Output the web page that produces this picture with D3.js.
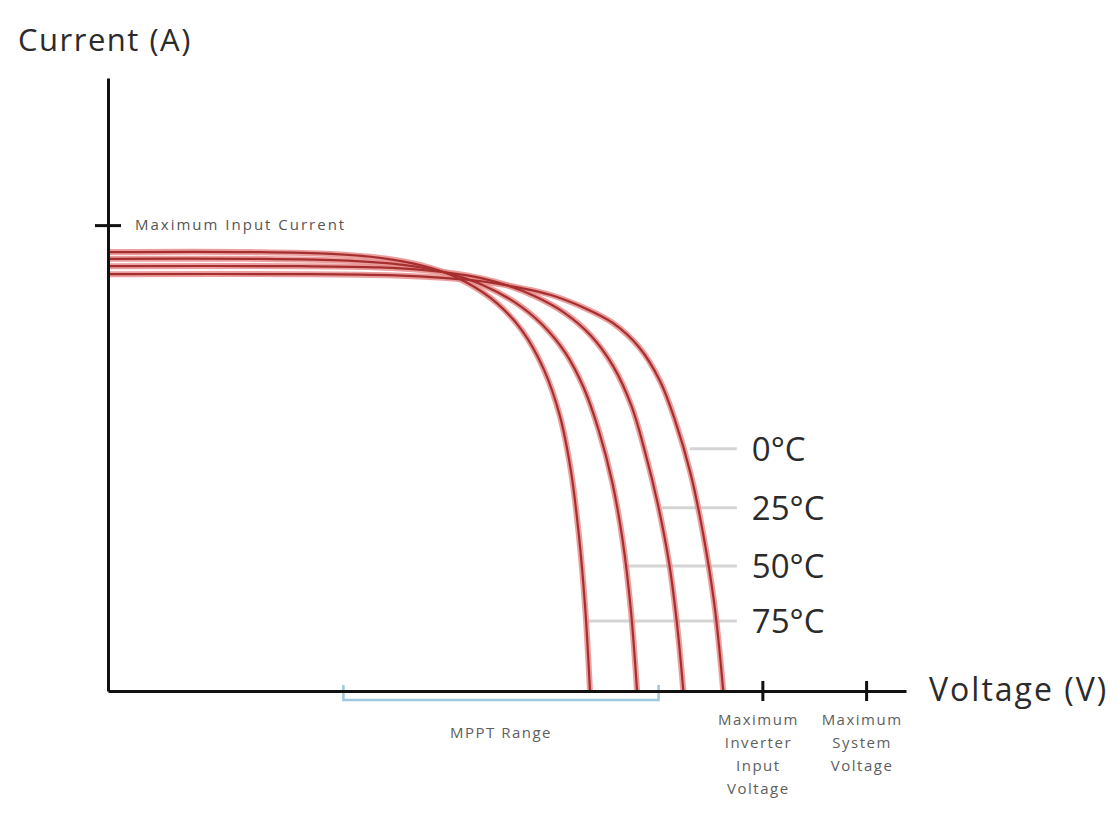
<!DOCTYPE html>
<html lang="en">
<head>
  <meta charset="UTF-8">
  <title>I-V curves vs temperature</title>
  <style>
      body { margin: 0; background: #fff; }
      text { font-family: "Open Sans", sans-serif; }
      .axis path, .axis line { stroke: #111; stroke-width: 3; }
  </style>
</head>
<body>
<div id="chart"></div>
<script src="https://d3js.org/d3.v7.min.js"></script>
<script>
  // temperature curves: voltage (0-100 units) and current (0-10 units)
  const temps = ["0°C", "25°C", "50°C", "75°C"];
  const volt0  = [0, 24.1, 36.0, 42.0, 47.0, 51.5, 55.5, 59.5, 63.3, 66.6, 69.2, 71.1, 73.0, 74.6, 76.0, 77.1];
  const amp0   = [6.80, 6.80, 6.78, 6.74, 6.68, 6.58, 6.46, 6.26, 6.00, 5.60, 5.05, 4.40, 3.55, 2.55, 1.40, 0];
  const volt25 = [0, 24.1, 34.0, 40.0, 45.0, 49.5, 53.5, 57.2, 60.5, 63.3, 65.6, 67.3, 68.9, 70.3, 71.3, 72.1];
  const amp25  = [6.93, 6.93, 6.91, 6.86, 6.78, 6.64, 6.44, 6.17, 5.80, 5.30, 4.65, 3.90, 3.05, 2.10, 1.10, 0];
  const volt50 = [0, 17.8, 30.0, 37.0, 42.5, 47.0, 51.0, 54.4, 57.3, 59.6, 61.5, 63.2, 64.5, 65.5, 66.3];
  const amp50  = [7.05, 7.05, 7.02, 6.95, 6.82, 6.62, 6.34, 5.98, 5.52, 4.95, 4.25, 3.40, 2.45, 1.35, 0];
  const volt75 = [0, 17.8, 28.0, 35.0, 40.5, 45.0, 48.8, 52.0, 54.6, 56.6, 58.0, 59.0, 59.8, 60.4];
  const amp75  = [7.16, 7.16, 7.13, 7.05, 6.90, 6.66, 6.32, 5.86, 5.25, 4.50, 3.60, 2.55, 1.35, 0];

  // leader lines to the temperature labels
  const leaderAmp   = [3.95, 2.99, 2.04, 1.14];
  const leaderStart = [72.9, 69.4, 64.8, 60.2];
  const leaderEnd = 78.8;

  // axis marks
  const xTicks = [82, 95];
  const xTickLabels = [["Maximum", "Inverter", "Input", "Voltage"], ["Maximum", "System", "Voltage"]];
  const yTicks = [7.6];
  const yTickLabels = ["Maximum Input Current"];
  const mppt = [29.5, 69.0];

  const margin = {top: 78, right: 211, bottom: 126, left: 108},
    width = 1117 - margin.left - margin.right,
    height = 817 - margin.top - margin.bottom;

  const root = d3.select("#chart").append("svg")
    .attr("width", 1117)
    .attr("height", 817);

  const svg = root.append("g")
    .attr("transform", `translate(${margin.left},${margin.top})`);

  const x = d3.scaleLinear().domain([0, 100]).range([0, width]);
  const y = d3.scaleLinear().domain([0, 10]).range([height, 0]);

  const curves = [
    {v: volt0, a: amp0}, {v: volt25, a: amp25},
    {v: volt50, a: amp50}, {v: volt75, a: amp75}
  ].map(c => c.v.map((v, i) => [v, c.a[i]]));

  const line = d3.line()
    .x(d => x(d[0]))
    .y(d => y(d[1]))
    .curve(d3.curveCatmullRom.alpha(0.5));

  // leader lines
  svg.selectAll(".leader")
    .data(leaderAmp)
    .enter().append("line")
    .attr("class", "leader")
    .attr("x1", (d, i) => x(leaderStart[i]))
    .attr("x2", x(leaderEnd))
    .attr("y1", d => y(d))
    .attr("y2", d => y(d))
    .attr("stroke", "#d4d4d4")
    .attr("stroke-width", 3);

  svg.selectAll(".temp")
    .data(temps)
    .enter().append("text")
    .attr("class", "temp")
    .attr("x", x(leaderEnd) + 15)
    .attr("y", (d, i) => y(leaderAmp[i]))
    .attr("dy", "0.36em")
    .style("font-size", "33px")
    .style("fill", "#2b2b2b")
    .text(d => d);

  // MPPT bracket
  svg.append("path")
    .attr("d", `M${x(mppt[0])},${height - 6}V${height + 9}H${x(mppt[1])}V${height - 6}`)
    .attr("fill", "none")
    .attr("stroke", "#9ec8df")
    .attr("stroke-width", 2.5);

  svg.append("text")
    .attr("x", (x(mppt[0]) + x(mppt[1])) / 2)
    .attr("y", height + 47)
    .style("text-anchor", "middle")
    .style("font-size", "15px")
    .style("letter-spacing", "1.5px")
    .style("fill", "#5e5e5e")
    .text("MPPT Range");

  // curves: soft halo + dark core
  svg.selectAll(".halo")
    .data(curves)
    .enter().append("path")
    .attr("class", "halo")
    .attr("d", line)
    .attr("fill", "none")
    .attr("stroke", "#e88e8e")
    .attr("stroke-opacity", 0.85)
    .attr("stroke-width", 6);

  svg.selectAll(".curve")
    .data(curves)
    .enter().append("path")
    .attr("class", "curve")
    .attr("d", line)
    .attr("fill", "none")
    .attr("stroke", "#a52f2e")
    .attr("stroke-width", 2.2);

  // axes
  const xAxis = svg.append("g")
    .attr("class", "axis")
    .attr("transform", `translate(0,${height})`)
    .call(d3.axisBottom(x).tickValues(xTicks).tickSizeOuter(0).tickFormat(""));
  xAxis.selectAll(".tick line").attr("y1", -10).attr("y2", 10);

  const yAxis = svg.append("g")
    .attr("class", "axis")
    .call(d3.axisLeft(y).tickValues(yTicks).tickSizeOuter(0).tickFormat(""));
  yAxis.selectAll(".tick line").attr("x1", -13).attr("x2", 13);

  xTickLabels.forEach((lines, i) => {
    const t = svg.append("text")
      .attr("x", x(xTicks[i]) - 4)
      .attr("y", height + 34)
      .style("text-anchor", "middle")
      .style("font-size", "15px")
      .style("letter-spacing", "1.5px")
      .style("fill", "#5e5e5e");
    lines.forEach((s, j) => {
      t.append("tspan")
        .attr("x", x(xTicks[i]) - 4)
        .attr("dy", j === 0 ? 0 : 23)
        .text(s);
    });
  });

  svg.append("text")
    .attr("x", 27)
    .attr("y", y(yTicks[0]))
    .attr("dy", "0.35em")
    .style("font-size", "15px")
    .style("letter-spacing", "2px")
    .style("fill", "#555")
    .text(yTickLabels[0]);

  // axis titles
  root.append("text")
    .attr("x", 18)
    .attr("y", 51)
    .style("font-size", "31px")
    .style("letter-spacing", "1.5px")
    .style("fill", "#2b2b2b")
    .text("Current (A)");

  root.append("text")
    .attr("x", 929)
    .attr("y", margin.top + height + 10)
    .style("font-size", "32px")
    .style("letter-spacing", "2px")
    .style("fill", "#2b2b2b")
    .text("Voltage (V)");
</script>
</body>
</html>
